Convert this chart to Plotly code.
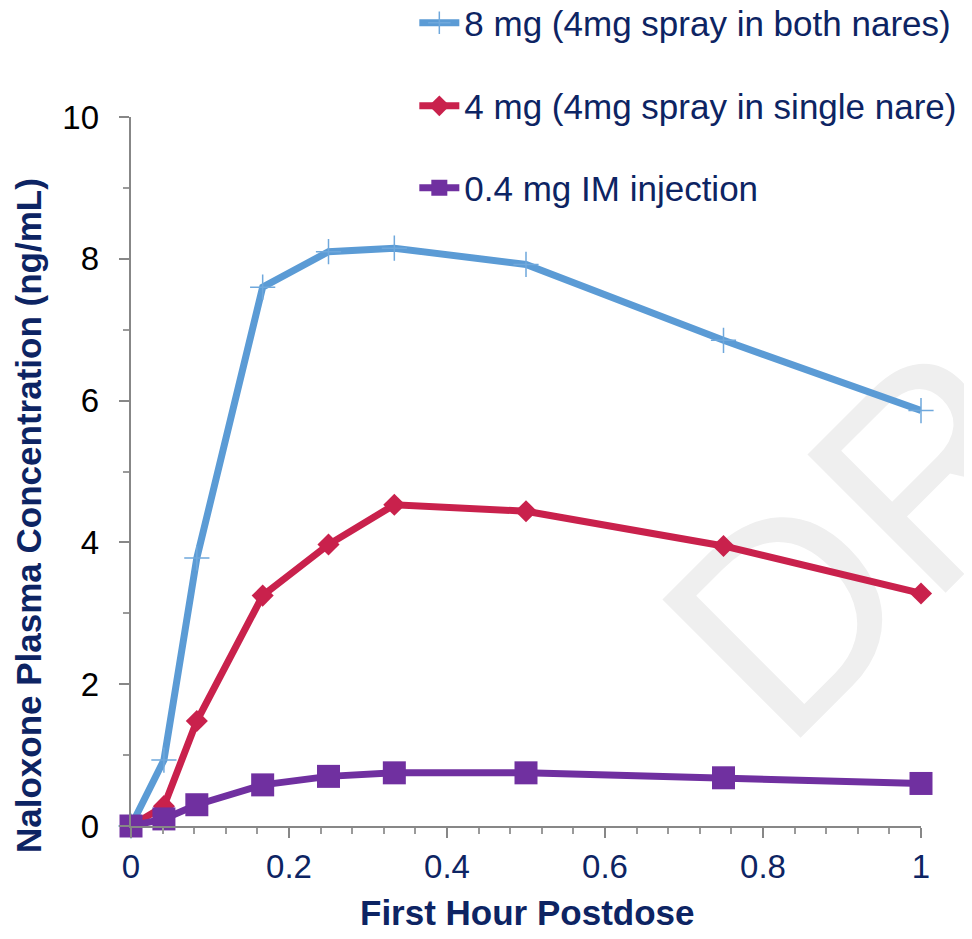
import plotly.graph_objects as go

hours = [0, 2.5/60, 5/60, 10/60, 15/60, 20/60, 30/60, 45/60, 1.0]
conc_8mg = [0.0, 0.93, 3.78, 7.60, 8.10, 8.15, 7.92, 6.85, 5.86]
conc_4mg = [0.0, 0.28, 1.48, 3.25, 3.97, 4.53, 4.44, 3.95, 3.28]
conc_im = [0.0, 0.10, 0.30, 0.58, 0.70, 0.75, 0.75, 0.68, 0.60]

names = ["8 mg (4mg spray in both nares)",
         "4 mg (4mg spray in single nare)",
         "0.4 mg IM injection"]
x_ticks = [0, 0.2, 0.4, 0.6, 0.8, 1]
x_tick_text = ["0", "0.2", "0.4", "0.6", "0.8", "1"]
y_ticks = [0, 2, 4, 6, 8, 10]
y_tick_text = ["0", "2", "4", "6", "8", "10"]
x_title = "First Hour Postdose"
y_title = "Naloxone Plasma Concentration (ng/mL)"

NAVY = "#0d2463"
BLUE = "#5b9bd5"
RED = "#c9214c"
PURPLE = "#7030a0"
FONT = "Liberation Sans, Arial, sans-serif"

# invisible padding after y tick labels (pushes them away from the axis)
PAD = '<span style="color:rgba(0,0,0,0);font-size:24px">_</span>'

fig = go.Figure()
fig.add_trace(go.Scatter(
    x=hours, y=conc_8mg, name=names[0], mode="lines+markers",
    line=dict(color=BLUE, width=7),
    marker=dict(symbol="cross-thin", size=18, color=BLUE,
                line=dict(color="#6fa8dc", width=1.5)),
    cliponaxis=False, legend="legend"))
fig.add_trace(go.Scatter(
    x=hours, y=conc_4mg, name=names[1], mode="lines+markers",
    line=dict(color=RED, width=7),
    marker=dict(symbol="diamond", size=17, color=RED, line=dict(width=0)),
    cliponaxis=False, legend="legend2"))
fig.add_trace(go.Scatter(
    x=hours, y=conc_im, name=names[2], mode="lines+markers",
    line=dict(color=PURPLE, width=7),
    marker=dict(symbol="square", size=23, color=PURPLE, line=dict(width=0)),
    cliponaxis=False, legend="legend3"))

leg_common = dict(xref="container", yref="container",
                  xanchor="left", yanchor="middle", bgcolor="rgba(0,0,0,0)",
                  font=dict(family=FONT, size=35, color=NAVY),
                  itemwidth=40, borderwidth=0)
# page body has an 8px margin, so the figure is 8px smaller and margins shifted
fig.update_layout(
    width=964, height=931,
    margin=dict(l=123, r=51, t=109, b=113, autoexpand=False),
    paper_bgcolor="white", plot_bgcolor="white",
    font=dict(family=FONT, color=NAVY),
    showlegend=True,
    legend=dict(x=0.4215, y=0.9839, **leg_common),
    legend2=dict(x=0.4215, y=0.8947, **leg_common),
    legend3=dict(x=0.4215, y=0.8067, **leg_common),
    xaxis=dict(
        range=[0, 1], tickvals=x_ticks, ticktext=x_tick_text,
        showgrid=False, zeroline=False, automargin=False,
        showline=True, linecolor="#878787", linewidth=2,
        ticks="outside", ticklen=10, tickwidth=2, tickcolor="#878787",
        minor=dict(dtick=0.04, ticks="outside", ticklen=6, tickwidth=1.5,
                   tickcolor="#9a9a9a", showgrid=False),
        tickfont=dict(family=FONT, size=33, color=NAVY),
    ),
    yaxis=dict(
        range=[0, 10], tickvals=y_ticks,
        ticktext=[t + PAD for t in y_tick_text],
        showgrid=False, zeroline=False, automargin=False,
        showline=True, linecolor="#878787", linewidth=2,
        ticks="outside", ticklen=10, tickwidth=2, tickcolor="#878787",
        minor=dict(dtick=1, ticks="outside", ticklen=6, tickwidth=1.5,
                   tickcolor="#9a9a9a", showgrid=False),
        tickfont=dict(family=FONT, size=33, color="#000000"),
    ),
    annotations=[
        dict(text="<b>" + x_title + "</b>", xref="paper", yref="paper",
             x=0.501, y=-0.1213, xanchor="center", yanchor="middle",
             showarrow=False, font=dict(family=FONT, size=35, color=NAVY)),
        dict(text="<b>" + y_title + "</b>", xref="paper", yref="paper",
             x=-0.1304, y=0.4386, xanchor="center", yanchor="middle",
             textangle=-90, showarrow=False,
             font=dict(family=FONT, size=35, color=NAVY)),
    ],
    shapes=[dict(
        type="rect", xref="paper", yref="paper",
        x0=0.888, x1=0.908, y0=0.421, y1=0.441,
        line=dict(width=0), fillcolor="rgba(0,0,0,0)", layer="below",
        label=dict(text="DR", textangle=-45, textposition="middle center",
                   font=dict(family=FONT, size=284, color="#efefef")),
    )],
)

fig.write_html("out.html")
